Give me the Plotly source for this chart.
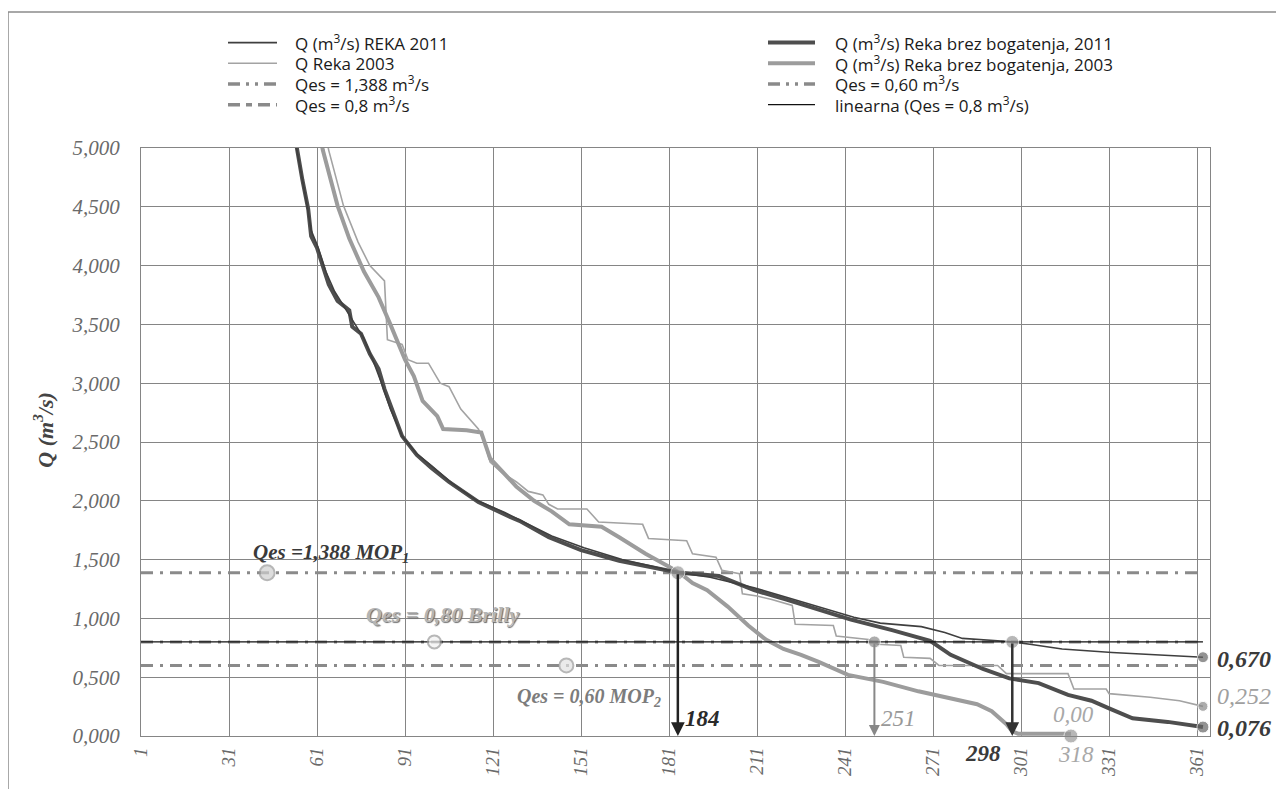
import plotly.graph_objects as go

# ---------------- data ----------------
days_brez_2011 = [50, 54, 56, 58, 59, 61, 63, 65, 68, 72, 73, 76, 79, 82, 84, 87, 90, 95, 100, 106,
                  116, 127, 130, 140, 151, 164, 181, 184, 198, 210, 221, 233, 243, 257, 270, 277,
                  288, 297, 307, 317, 325, 331, 339, 351, 363]
q_brez_2011 = [5.6, 5.0, 4.73, 4.48, 4.25, 4.15, 4.0, 3.84, 3.70, 3.62, 3.48, 3.42, 3.25, 3.12, 2.95,
               2.75, 2.55, 2.39, 2.28, 2.16, 1.99, 1.86, 1.83, 1.69, 1.58, 1.49, 1.41, 1.39, 1.36,
               1.24, 1.16, 1.07, 0.99, 0.90, 0.81, 0.69, 0.57, 0.49, 0.45, 0.35, 0.30, 0.235, 0.15,
               0.12, 0.076]

days_reka_2011 = [50, 54, 57, 59, 61, 64, 67, 70, 74, 77, 80, 83, 86, 90, 95, 100, 107, 115, 125, 133,
                  141, 152, 165, 176, 184, 195, 203, 210, 221, 233, 244, 253, 267, 275, 281, 293, 298,
                  304, 315, 332, 349, 363]
q_reka_2011 = [5.6, 5.0, 4.60, 4.30, 4.18, 3.95, 3.78, 3.66, 3.50, 3.38, 3.20, 3.00, 2.78, 2.55, 2.40,
               2.30, 2.15, 2.01, 1.90, 1.80, 1.70, 1.60, 1.50, 1.44, 1.39, 1.35, 1.30, 1.26, 1.18,
               1.09, 1.01, 0.96, 0.93, 0.88, 0.83, 0.81, 0.80, 0.78, 0.74, 0.71, 0.69, 0.670]

days_brez_2003 = [58, 63, 68, 72, 77, 82, 86, 91, 94, 97, 102, 104, 112, 117, 120, 129, 135, 141, 147,
                  158, 164, 173, 181, 185, 189, 194, 201, 208, 214, 220, 226, 232, 242, 254, 266, 277,
                  286, 291, 296, 298, 300, 318]
q_brez_2003 = [5.6, 4.98, 4.51, 4.23, 3.95, 3.73, 3.50, 3.20, 3.06, 2.85, 2.72, 2.61, 2.60, 2.58, 2.36,
               2.12, 2.00, 1.91, 1.80, 1.78, 1.69, 1.55, 1.44, 1.38, 1.30, 1.24, 1.10, 0.94, 0.82,
               0.74, 0.69, 0.63, 0.52, 0.46, 0.38, 0.32, 0.27, 0.21, 0.10, 0.04, 0.02, 0.02]

days_reka_2003 = [60, 65, 70, 75, 79, 84, 85, 90, 92, 95, 99, 103, 106, 110, 116, 118, 120, 124, 129,
                  133, 138, 140, 143, 153, 157, 172, 174, 187, 189, 197, 199, 205, 206, 211, 216, 223,
                  224, 237, 238, 249, 252, 260, 261, 270, 273, 293, 296, 317, 319, 330, 331, 345, 355,
                  363]
q_reka_2003 = [5.6, 4.98, 4.51, 4.20, 4.00, 3.87, 3.37, 3.33, 3.20, 3.17, 3.17, 3.00, 2.97, 2.78, 2.61,
               2.50, 2.33, 2.24, 2.16, 2.08, 2.05, 1.97, 1.93, 1.93, 1.82, 1.80, 1.68, 1.66, 1.55,
               1.52, 1.41, 1.38, 1.21, 1.19, 1.16, 1.11, 0.95, 0.94, 0.85, 0.82, 0.78, 0.77, 0.67,
               0.66, 0.60, 0.60, 0.53, 0.53, 0.40, 0.40, 0.36, 0.33, 0.30, 0.252]

qes_span = [1, 363]
qes_mop1 = 1.388
qes_brilly = 0.80
qes_mop2 = 0.60

qes_marker_days = [44, 101, 146]
qes_marker_q = [1.388, 0.80, 0.60]

cross_days = [184, 251, 298]
cross_q = [1.388, 0.80, 0.80]
zero_day = 318
zero_q = 0.0
end_day = 363
end_values = [0.670, 0.252, 0.076]

x_ticks = list(range(1, 362, 30))
y_ticks = [0, 0.5, 1.0, 1.5, 2.0, 2.5, 3.0, 3.5, 4.0, 4.5, 5.0]

legend_left = ["Q (m<sup>3</sup>/s) REKA 2011", "Q Reka 2003",
               "Qes = 1,388 m<sup>3</sup>/s", "Qes = 0,8 m<sup>3</sup>/s"]
legend_right = ["Q (m<sup>3</sup>/s) Reka brez bogatenja, 2011",
                "Q (m<sup>3</sup>/s) Reka brez bogatenja, 2003",
                "Qes = 0,60 m<sup>3</sup>/s", "linearna (Qes = 0,8 m<sup>3</sup>/s)"]

# ---------------- styles ----------------
DARK = "#4e4e4e"
GRAY = "#9c9c9c"
THIN_DARK = "#3f3f3f"
THIN_GRAY = "#a3a3a3"
QES = "#8a8a8a"
DASH = "12px,7px,3px,7px"
SERIF = "Liberation Serif"
SANS = "Open Sans"

# plot-area geometry (pixels inside the 1284x789 page)
PL, PR, PT, PB = 141, 1210, 148, 745
PW, PH = PR - PL, PB - PT


def px_x(px):
    return (px - PL) / PW


def px_y(py):
    return (PB - py) / PH


fig = go.Figure()

# Qes reference lines
for q in [qes_mop1, qes_brilly, qes_mop2]:
    fig.add_trace(go.Scatter(x=qes_span, y=[q] * 2, mode="lines", showlegend=False,
                             line=dict(color=QES, width=3, dash=DASH)))

# flow duration curves
fig.add_trace(go.Scatter(x=days_reka_2003, y=q_reka_2003, mode="lines", showlegend=False,
                         name="Q Reka 2003", line=dict(color=THIN_GRAY, width=1.6)))
fig.add_trace(go.Scatter(x=days_brez_2003, y=q_brez_2003, mode="lines", showlegend=False,
                         name="Q Reka brez bogatenja, 2003", line=dict(color=GRAY, width=4)))
fig.add_trace(go.Scatter(x=days_brez_2011, y=q_brez_2011, mode="lines", showlegend=False,
                         name="Q Reka brez bogatenja, 2011", line=dict(color=DARK, width=4)))
fig.add_trace(go.Scatter(x=days_reka_2011, y=q_reka_2011, mode="lines", showlegend=False,
                         name="Q REKA 2011", line=dict(color=THIN_DARK, width=1.6)))
fig.add_trace(go.Scatter(x=qes_span, y=[qes_brilly] * 2, mode="lines", showlegend=False,
                         name="linearna", line=dict(color="#111111", width=1.2)))

# markers
fig.add_trace(go.Scatter(x=qes_marker_days, y=qes_marker_q, mode="markers", showlegend=False,
                         marker=dict(size=[15, 13, 14], color=["#cfcfcf", "#f2f2f2", "#e2e2e2"],
                                     line=dict(color="#999999", width=2)), cliponaxis=False))
fig.add_trace(go.Scatter(x=cross_days + [zero_day], y=cross_q + [zero_q], mode="markers",
                         showlegend=False, cliponaxis=False,
                         marker=dict(size=[14, 12, 13, 14],
                                     color=["#9a9a9a", "#8a8a8a", "#999999", "#9a9a9a"])))
fig.add_trace(go.Scatter(x=[end_day] * 3, y=end_values, mode="markers", showlegend=False,
                         cliponaxis=False,
                         marker=dict(size=[11, 10, 12], color=["#666666", "#8a8a8a", "#666666"])))

# arrows
arrow_colors = ["#222222", "#888888", "#333333"]
arrow_widths = [2.5, 2, 2.5]
for d, q, c, w in zip(cross_days, cross_q, arrow_colors, arrow_widths):
    fig.add_annotation(x=d, y=0, ax=d, ay=q, xref="x", yref="y", axref="x", ayref="y",
                       text="", showarrow=True, arrowhead=2, arrowsize=1.1, arrowwidth=w,
                       arrowcolor=c)


def num(v, nd):
    return f"{v:.{nd}f}".replace(".", ",")


def lab(text, x, y, size, color, bold=True, xanchor="left", xshift=0, yshift=0, shadow=None):
    font = dict(family=SERIF, size=size, color=color, style="italic",
                weight="bold" if bold else "normal")
    if shadow:
        font["shadow"] = shadow
    fig.add_annotation(x=x, y=y, xref="x", yref="y", text=text, showarrow=False,
                       xanchor=xanchor, yanchor="middle", xshift=xshift, yshift=yshift,
                       font=font)


lab("Qes =" + num(qes_mop1, 3) + " MOP<sub>1</sub>", qes_marker_days[0], qes_marker_q[0], 21,
    "#3a3a3a", xanchor="left", xshift=-16, yshift=20)
lab("Qes = " + num(qes_brilly, 2) + " Brilly", qes_marker_days[1], qes_marker_q[1], 22,
    "#b5b5b5", xanchor="center", xshift=8, yshift=27, shadow="1px 1px 1px #6a6a6a")
lab("Qes = " + num(qes_mop2, 2) + " MOP<sub>2</sub>", qes_marker_days[2], qes_marker_q[2], 20,
    "#7c7c7c", xanchor="center", xshift=23, yshift=-32)

lab(str(cross_days[0]), cross_days[0], 0, 23, "#2a2a2a", xanchor="left", xshift=5, yshift=18)
lab(str(cross_days[1]), cross_days[1], 0, 23, "#999999", bold=False, xanchor="left", xshift=5, yshift=18)
lab(str(cross_days[2]), cross_days[2], 0, 23, "#3a3a3a", xanchor="right", xshift=-9, yshift=-17)
lab(str(zero_day), zero_day, 0, 23, "#a8a8a8", bold=False, xanchor="center", xshift=5, yshift=-18)
lab(num(zero_q, 2), zero_day, 0, 23, "#a8a8a8", bold=False, xanchor="center", xshift=3, yshift=22)

lab(num(end_values[0], 3), end_day, end_values[0], 24, "#3a3a3a", xanchor="left", xshift=12, yshift=-2)
lab(num(end_values[1], 3), end_day, end_values[1], 24, "#a0a0a0", bold=False, xanchor="left", xshift=12, yshift=10)
lab(num(end_values[2], 3), end_day, end_values[2], 24, "#3a3a3a", xanchor="left", xshift=12, yshift=-1)

# y-axis title
fig.add_annotation(x=px_x(43), y=px_y(434), xref="paper", yref="paper", text="Q (m<sup>3</sup>/s)",
                   showarrow=False, textangle=-90, xanchor="center", yanchor="middle",
                   font=dict(family=SERIF, size=22, color="#444444", style="italic", weight="bold"))

# legend (two columns, drawn as samples + texts)
row_y = [41, 62, 83, 104]
left_styles = [dict(color=THIN_DARK, width=1.6), dict(color=THIN_GRAY, width=1.6),
               dict(color=QES, width=3.5, dash="12px,6px,3px,6px,3px,6px"),
               dict(color=QES, width=3.5, dash="12px,6px,6px,6px")]
right_styles = [dict(color=DARK, width=4), dict(color=GRAY, width=4),
                dict(color=QES, width=3.5, dash="12px,6px,3px,6px,3px,6px"),
                dict(color="#111111", width=1.2)]
for names, styles, sx0, sx1, tx in [(legend_left, left_styles, 228, 277, 293),
                                     (legend_right, right_styles, 768, 815, 833)]:
    for name, st, ry in zip(names, styles, row_y):
        fig.add_shape(type="line", xref="paper", yref="paper", x0=px_x(sx0), x1=px_x(sx1),
                      y0=px_y(ry), y1=px_y(ry), line=st)
        fig.add_annotation(x=px_x(tx), y=px_y(ry), xref="paper", yref="paper", text=name,
                           showarrow=False, xanchor="left", yanchor="middle",
                           font=dict(family=SANS, size=17, color="#1a1a1a"))

# outer frame
fig.add_shape(type="rect", xref="paper", yref="paper", x0=px_x(8), x1=px_x(1277),
              y0=px_y(800), y1=px_y(10),
              line=dict(color="#8c8c8c", width=1.5), fillcolor="rgba(0,0,0,0)", layer="below")

# page has an 8px body margin -> figure of 1276x781 placed at (8, 8)
OFF = 8
W, H = 1284 - OFF, 789 - OFF
fig.update_layout(
    width=W, height=H,
    margin=dict(l=PL - OFF, r=W - (PR - OFF), t=PT - OFF, b=H - (PB - OFF)),
    paper_bgcolor="white", plot_bgcolor="white",
    separators=",.",
    showlegend=False,
    xaxis=dict(range=[1, 365.4], tickvals=x_ticks, tickangle=-90, showgrid=True,
               gridcolor="#858585", gridwidth=1, showline=True, mirror=True, linecolor="#858585",
               linewidth=1, zeroline=False, ticks="", ticklabelstandoff=3,
               tickfont=dict(family=SERIF, size=19, color="#6a6a6a", style="italic")),
    yaxis=dict(range=[0, 5], tickvals=y_ticks, tickformat=".3f", showgrid=True,
               gridcolor="#858585", gridwidth=1, showline=True, mirror=True, linecolor="#858585",
               linewidth=1, zeroline=False, ticks="", ticklabelstandoff=16,
               tickfont=dict(family=SERIF, size=21, color="#6a6a6a", style="italic")),
)

fig.write_html("out.html")
